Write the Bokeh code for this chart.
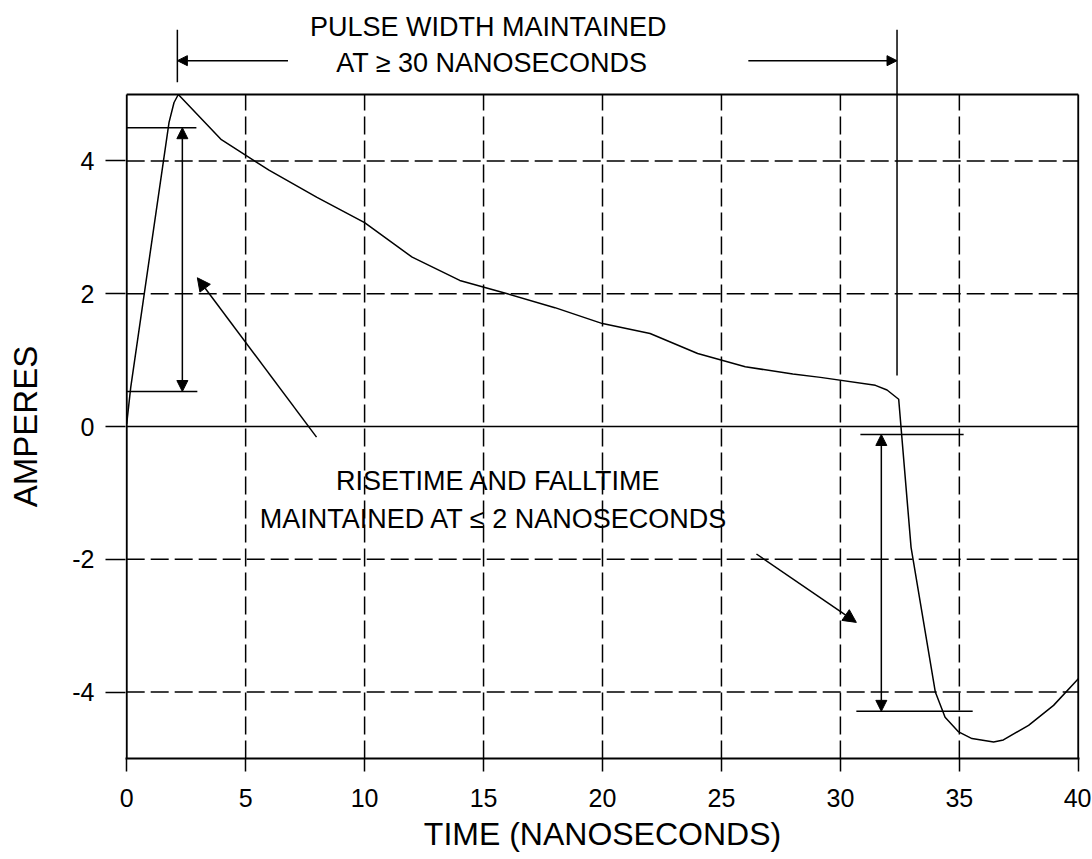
import math
from bokeh.plotting import figure
from bokeh.layouts import row
from bokeh.models import Range1d, FixedTicker, Arrow, NormalHead
from bokeh.core.properties import value
from bokeh.embed import file_html
from bokeh.resources import INLINE

# ---- data ----
time_ns = [0.0, 0.17, 1.78, 1.99, 2.17, 3.98, 5.98, 8.0, 10.0, 12.0, 14.0, 16.0,
           18.0, 20.0, 22.0, 24.0, 26.0, 28.0, 29.16, 31.47, 31.96, 32.45, 32.97,
           33.99, 34.4, 34.97, 35.53, 36.44, 36.85, 37.91, 38.96, 40.0]
amperes = [0.04, 0.59, 4.58, 4.88, 5.0, 4.32, 3.86, 3.45, 3.07, 2.55, 2.2, 2.0,
           1.79, 1.55, 1.4, 1.1, 0.9, 0.79, 0.74, 0.62, 0.55, 0.41, -1.82,
           -4.0, -4.38, -4.6, -4.7, -4.75, -4.72, -4.5, -4.2, -3.8]

x_ticks = [0, 5, 10, 15, 20, 25, 30, 35, 40]
y_ticks = [-4, -2, 0, 2, 4]
y_tick_labels = ["-4", "-2", "0", "2", "4"]
x_grid = [5, 10, 15, 20, 25, 30, 35]
y_grid = [-4, -2, 2, 4]

X_MIN, X_MAX = 0, 40
Y_MIN, Y_MAX = -5, 5
Y_TOP = 6.416   # room above the plot box for the pulse-width annotation

FONT = value("Liberation Sans")

# ---- narrow strip holding the vertical axis title (frames are aligned by the row) ----
lab = figure(frame_width=50, frame_height=758, x_range=Range1d(0, 50),
             y_range=Range1d(Y_MIN, Y_TOP),
             output_backend="svg", toolbar_location=None,
             x_axis_location=None, y_axis_location=None,
             min_border_left=0, min_border_right=0, min_border_top=0, min_border_bottom=0)
lab.outline_line_color = None
lab.xgrid.grid_line_color = None
lab.ygrid.grid_line_color = None
lab.text(x=[25], y=[0], text=["AMPERES"], angle=math.pi / 2,
         text_font=FONT, text_font_size="33px", text_color="black",
         text_align="center", text_baseline="middle")

# ---- main chart ----
p = figure(frame_width=954, frame_height=758,
           x_range=Range1d(-0.05, 40.05), y_range=Range1d(Y_MIN, Y_TOP),
           output_backend="svg", toolbar_location=None,
           min_border_left=75, min_border_right=12,
           min_border_top=0, min_border_bottom=0)
p.outline_line_color = None
p.xgrid.grid_line_color = None
p.ygrid.grid_line_color = None
p.background_fill_color = "white"

p.xaxis.ticker = FixedTicker(ticks=x_ticks)
p.yaxis.ticker = FixedTicker(ticks=y_ticks)
p.yaxis.major_label_overrides = dict(zip(y_ticks, y_tick_labels))
for ax in (p.xaxis, p.yaxis):
    ax.minor_tick_line_color = None
    ax.major_tick_in = 0
    ax.major_tick_line_color = "black"
    ax.major_tick_line_width = 1.5
    ax.major_label_text_font = "Liberation Sans"
    ax.major_label_text_font_size = "25px"
    ax.major_label_text_color = "black"
p.xaxis.major_tick_out = 13
p.xaxis.major_label_standoff = 17
p.xaxis.axis_line_width = 2
p.xaxis.axis_line_color = "black"
p.xaxis.axis_label = "TIME (NANOSECONDS)"
p.xaxis.axis_label_text_font = "Liberation Sans"
p.xaxis.axis_label_text_font_size = "32px"
p.xaxis.axis_label_text_font_style = "normal"
p.xaxis.axis_label_text_color = "black"
p.xaxis.axis_label_standoff = 6
p.yaxis.major_tick_out = 20
p.yaxis.major_label_standoff = 11
p.yaxis.axis_line_color = None

# grid
p.segment(x0=x_grid, y0=[Y_MIN] * len(x_grid), x1=x_grid, y1=[Y_MAX] * len(x_grid),
          line_color="black", line_width=1.5, line_dash="18 6")
p.segment(x0=[X_MIN] * len(y_grid), y0=y_grid, x1=[X_MAX] * len(y_grid), y1=y_grid,
          line_color="black", line_width=1.5, line_dash="18 6")
p.line([X_MIN, X_MAX], [0, 0], line_color="black", line_width=1.5)

# frame
p.line([X_MIN, X_MAX], [Y_MAX, Y_MAX], line_color="black", line_width=2)
p.line([X_MIN, X_MIN], [Y_MIN, Y_MAX], line_color="black", line_width=2)
p.line([X_MAX, X_MAX], [Y_MIN, Y_MAX], line_color="black", line_width=2)

# waveform
p.line(time_ns, amperes, line_color="black", line_width=1.5)

# ---- annotations ----
def seg(x0, y0, x1, y1, w=1.5):
    p.line([x0, x1], [y0, y1], line_color="black", line_width=w)

def arrow(x0, y0, x1, y1, size=10, both=False):
    head = lambda: NormalHead(size=size, fill_color="black", line_color="black", line_width=1)
    kw = dict(end=head(), x_start=x0, y_start=y0, x_end=x1, y_end=y1,
              line_color="black", line_width=1.5)
    if both:
        kw["start"] = head()
    p.add_layout(Arrow(**kw))

# pulse width
seg(2.13, 5.185, 2.13, 5.975)
seg(32.38, 0.77, 32.38, 5.975)
arrow(6.78, 5.51, 2.13, 5.51, size=10)
arrow(26.13, 5.51, 32.38, 5.51, size=10)

# rise time
seg(0, 4.50, 2.93, 4.50)
seg(0, 0.527, 2.97, 0.527)
arrow(2.34, 0.527, 2.34, 4.50, size=11, both=True)
arrow(7.98, -0.16, 2.97, 2.24, size=13)

# fall time
seg(30.84, -0.12, 35.18, -0.12)
seg(30.67, -4.29, 35.56, -4.29)
arrow(31.72, -0.12, 31.72, -4.29, size=11, both=True)
arrow(26.47, -1.92, 30.67, -2.95, size=13)

text_kw = dict(text_font=FONT, text_font_size="27px", text_color="black",
               text_align="center", text_baseline="alphabetic")
p.text(x=[15.2], y=[6.01], text=["PULSE WIDTH MAINTAINED"], **text_kw)
p.text(x=[15.35], y=[5.47], text=["AT \u2265 30 NANOSECONDS"], **text_kw)
p.text(x=[15.63], y=[-0.815], text=["RISETIME AND FALLTIME"], **text_kw)
p.text(x=[15.44], y=[-1.40], text=["MAINTAINED AT \u2264 2 NANOSECONDS"], **text_kw)

layout = row(lab, p, spacing=0)
open("out.html", "w").write(file_html(layout, INLINE))
